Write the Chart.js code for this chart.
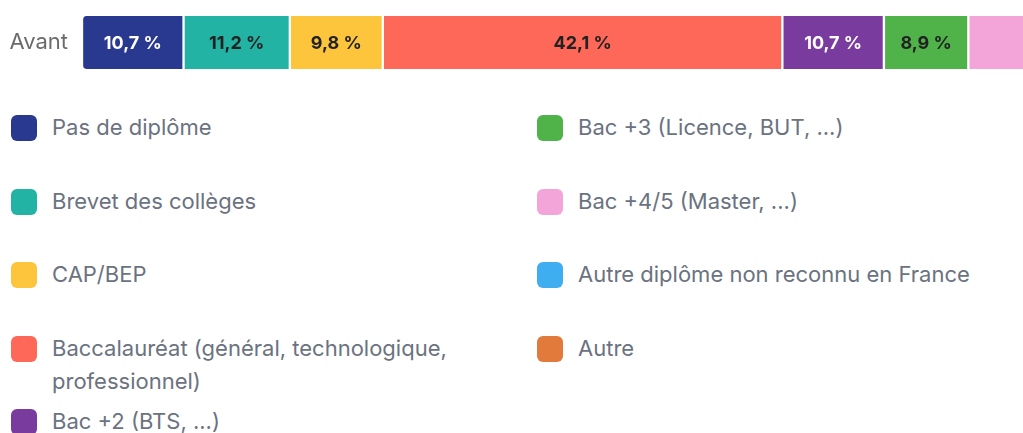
<!DOCTYPE html>
<html lang="fr">
<head>
<meta charset="utf-8">
<script src="https://cdn.jsdelivr.net/npm/chart.js@4.4.1/dist/chart.umd.min.js"></script>
<style>
  html, body { margin: 0; padding: 0; background: #fff; overflow: hidden; }
  body { width: 1023px; height: 433px; position: relative; font-family: Inter, "Noto Sans", sans-serif; }
  #chart-wrap { position: absolute; left: 0; top: 0; width: 1031px; height: 85px; }
  #legend { position: absolute; left: 11px; top: 111px; display: flex; }
  .col { display: flex; flex-direction: column; }
  .col.left { width: 526px; }
  .item { display: flex; align-items: flex-start; height: 73.6px; }
  .swatch { width: 26px; height: 26px; border-radius: 6px; margin-top: 4px; flex: none; }
  .txt { margin-left: 15px; font-size: 22px; line-height: 33px; color: #6b7280; max-width: 430px; }
</style>
</head>
<body>
<div id="chart-wrap"><canvas id="bar-chart"></canvas></div>
<div id="legend"></div>
<script>
// Data
const categories = ['Avant'];
const seriesNames = [
    'Pas de diplôme',
    'Brevet des collèges',
    'CAP/BEP',
    'Baccalauréat (général, technologique, professionnel)',
    'Bac +2 (BTS, ...)',
    'Bac +3 (Licence, BUT, ...)',
    'Bac +4/5 (Master, ...)',
    'Autre diplôme non reconnu en France',
    'Autre',
];
const seriesValues = [10.7, 11.2, 9.8, 42.1, 10.7, 8.9, 6.0, 0.3, 0.3];

const palette = ['#2a3990', '#22b3a4', '#fdc53c', '#fe6858', '#7a3b9e', '#4fb34a', '#f3a4d9', '#3eaef0', '#e27a3b'];

function isDark(hex) {
    const r = parseInt(hex.substr(1, 2), 16);
    const g = parseInt(hex.substr(3, 2), 16);
    const b = parseInt(hex.substr(5, 2), 16);
    return (0.299 * r + 0.587 * g + 0.114 * b) < 130;
}

// value labels inside the segments
const segmentLabels = {
    id: 'segmentLabels',
    afterDatasetsDraw(chart) {
        const ctx = chart.ctx;
        ctx.save();
        ctx.font = 'bold 18px Inter, "Noto Sans", sans-serif';
        ctx.textAlign = 'center';
        ctx.textBaseline = 'middle';
        chart.data.datasets.forEach((ds, i) => {
            const meta = chart.getDatasetMeta(i);
            meta.data.forEach((bar, j) => {
                const w = Math.abs(bar.x - bar.base);
                if (w < 70) return;
                ctx.fillStyle = isDark(palette[i]) ? '#ffffff' : '#222222';
                const txt = ds.data[j].toFixed(1).replace('.', ',') + ' %';
                ctx.fillText(txt, (bar.x + bar.base) / 2, bar.y + 1);
            });
        });
        ctx.restore();
    },
};

const last = seriesNames.length - 1;
const datasets = seriesNames.map((name, i) => ({
    label: name,
    data: [seriesValues[i]],
    backgroundColor: palette[i],
    borderColor: '#ffffff',
    borderWidth: { left: 1.5, right: 1.5, top: 0, bottom: 0 },
    borderSkipped: false,
    borderRadius: i === 0 ? { topLeft: 5, bottomLeft: 5 } : (i === last ? { topRight: 5, bottomRight: 5 } : 0),
    barThickness: 53,
    clip: false,
}));

new Chart(document.getElementById('bar-chart'), {
    type: 'bar',
    data: { labels: categories, datasets: datasets },
    options: {
        indexAxis: 'y',
        responsive: true,
        maintainAspectRatio: false,
        animation: false,
        layout: { padding: 0 },
        plugins: {
            legend: { display: false },
            tooltip: { enabled: false },
        },
        scales: {
            x: { stacked: true, min: 0, max: 100, display: false },
            y: {
                stacked: true,
                grid: { display: false, drawTicks: false },
                border: { display: false },
                ticks: {
                    color: '#6b6b6b',
                    font: { family: 'Inter, "Noto Sans", sans-serif', size: 22 },
                    padding: 14,
                },
                afterFit(scale) {
                    scale.width = 82;
                    scale.paddingTop = 0;
                    scale.paddingBottom = 0;
                },
            },
        },
    },
    plugins: [segmentLabels],
});

// legend in two columns
const legend = document.getElementById('legend');
const leftCol = document.createElement('div');
leftCol.className = 'col left';
const rightCol = document.createElement('div');
rightCol.className = 'col';
seriesNames.forEach((name, i) => {
    const item = document.createElement('div');
    item.className = 'item';
    const sw = document.createElement('span');
    sw.className = 'swatch';
    sw.style.background = palette[i];
    const t = document.createElement('span');
    t.className = 'txt';
    t.textContent = name;
    item.appendChild(sw);
    item.appendChild(t);
    (i < 5 ? leftCol : rightCol).appendChild(item);
});
legend.appendChild(leftCol);
legend.appendChild(rightCol);
</script>
</body>
</html>
